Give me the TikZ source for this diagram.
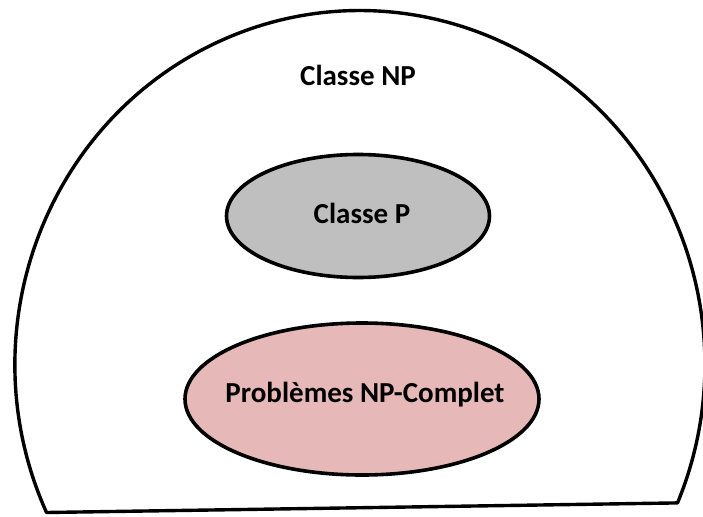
\documentclass[tikz,border=0pt]{standalone}
\usepackage{fontspec}
\setmainfont{Carlito}
\usetikzlibrary{shapes.geometric}
\definecolor{pgray}{RGB}{191,191,191}
\definecolor{npcpink}{RGB}{230,185,184}
\tikzset{
  outline/.style={draw=black, line width=3.4pt, line join=round},
  setbox/.style={ellipse, draw=black, line width=3.6pt, inner sep=0pt},
  setlabel/.style={anchor=base, inner sep=0pt, font=\fontsize{29}{34}\selectfont\bfseries}
}
\begin{document}
\begin{tikzpicture}[x=1pt, y=-1pt]
  \useasboundingbox (0,0) rectangle (703,516);
  % outer class NP: an elliptic dome closed by a chord
  \coordinate (npstart) at (46.5,512.5);
  \draw[outline] (npstart) arc[start angle=155.3, end angle=383, x radius=345, y radius=354] -- cycle;
  \node[setlabel] (np) at (358,86) {Classe NP};
  % class P
  \node[setbox, fill=pgray, minimum width=263pt, minimum height=123pt] (p) at (358,216) {};
  \node[setlabel] (plabel) at (362,223) {Classe P};
  % NP-complete problems
  \node[setbox, fill=npcpink, minimum width=354pt, minimum height=152pt] (npc) at (362,399) {};
  \node[setlabel] (npclabel) at (365,402) {Problèmes NP-Complet};
\end{tikzpicture}
\end{document}
